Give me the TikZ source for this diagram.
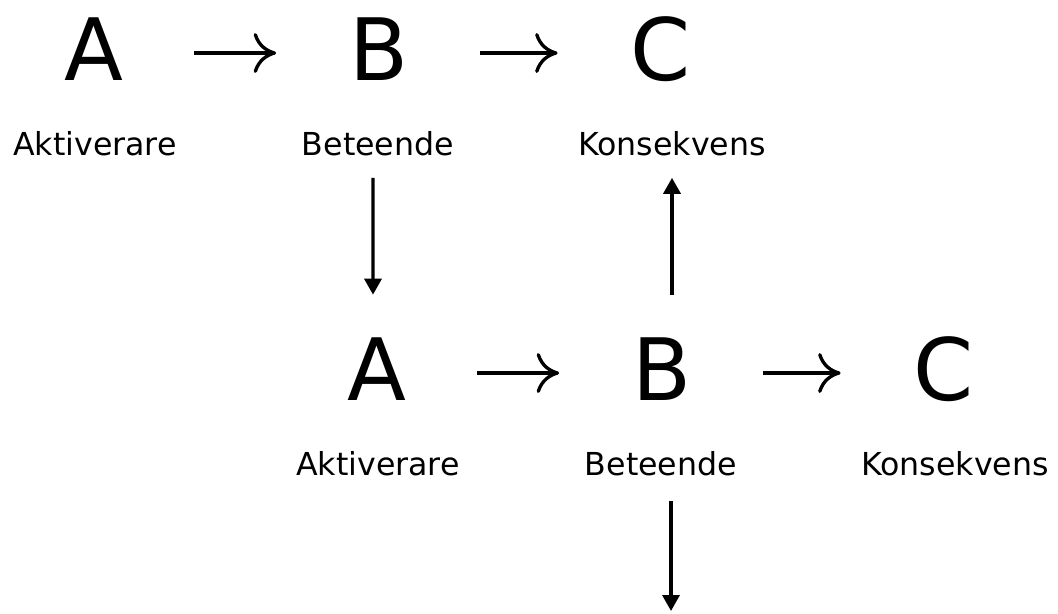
\documentclass[tikz,border=0pt]{standalone}
\usepackage{fontspec}
\setmainfont{DejaVu Sans}
\usetikzlibrary{arrows.meta}
\begin{document}
\begin{tikzpicture}[x=0.02cm, y=-0.02cm]
        \tikzset{
          letter/.style={inner sep=0pt, anchor=base, text height=1.28cm, text depth=0.2cm,
            font=\fontsize{49}{50}\selectfont},
          term/.style={inner sep=0pt, anchor=base, font=\fontsize{18}{20}\selectfont},
          hflow/.style={-{Computer Modern Rightarrow[length=0.45cm,width=0.8cm]},
            line width=1.9pt, shorten <=1.42cm, shorten >=1.46cm},
          vflow/.style={-{Triangle[length=0.32cm,width=0.34cm]}, line width=1.9pt},
        }
        \useasboundingbox (0,0) rectangle (1058,613);
        % first chain
        \node [letter](A1) at (93.5,80) {A};
        \node [letter](B1) at (379,80) {B};
        \node [letter](C1) at (661,80) {C};
        \node [term](akt1) at (95,155) {Aktiverare};
        \node [term](beh1) at (378,155) {Beteende};
        \node [term](kon1) at (672,155) {Konsekvens};
        \draw [hflow] (A1) -- (B1);
        \draw [hflow] (B1) -- (C1);
        % second chain
        \node [letter](A2) at (376.5,400) {A};
        \node [letter](B2) at (662,400) {B};
        \node [letter](C2) at (944,400) {C};
        \node [term](akt2) at (378,475) {Aktiverare};
        \node [term](beh2) at (661,475) {Beteende};
        \node [term](kon2) at (955,475) {Konsekvens};
        \draw [hflow] (A2) -- (B2);
        \draw [hflow] (B2) -- (C2);
        % between the chains
        \draw [vflow, shorten <=0.44cm, shorten >=0.82cm] ([xshift=-0.1cm]beh1.south) -- ([xshift=-0.07cm]A2.north);
        \draw [vflow, shorten <=0.82cm, shorten >=0.44cm] (kon1.south |- B2.north) -- (kon1.south);
        \coordinate (out) at (671,611);
        \draw [vflow, shorten <=0.5cm] (beh2.south -| out) -- (out);
    \end{tikzpicture}
\end{document}
